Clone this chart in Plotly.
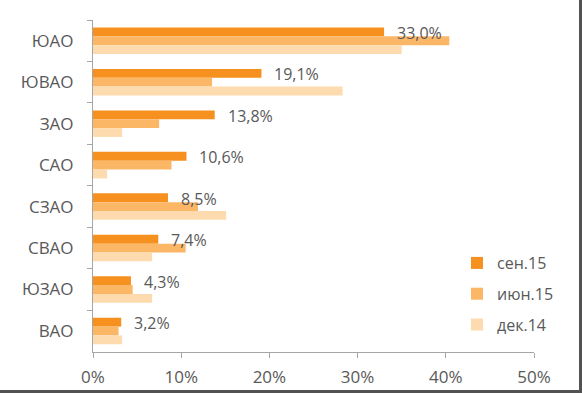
import plotly.graph_objects as go

categories = ["ЮАО", "ЮВАО", "ЗАО", "САО", "СЗАО", "СВАО", "ЮЗАО", "ВАО"]
sep15 = [33.0, 19.1, 13.8, 10.6, 8.5, 7.4, 4.3, 3.2]
jun15 = [40.4, 13.5, 7.5, 8.9, 11.9, 10.5, 4.5, 2.9]
dec14 = [35.0, 28.3, 3.3, 1.6, 15.1, 6.7, 6.7, 3.3]
series_names = ["сен.15", "июн.15", "дек.14"]
colors = ["#F6901E", "#FBB666", "#FDDBAE"]
x_ticks = [0, 10, 20, 30, 40, 50]
x_tick_labels = ["0%", "10%", "20%", "30%", "40%", "50%"]

font_family = "Open Sans, Noto Sans, sans-serif"
grey = "#595959"
fs = 17

fig = go.Figure()
for name, vals, col in zip(series_names, [sep15, jun15, dec14], colors):
    fig.add_trace(go.Bar(
        y=categories, x=vals, name=name, orientation="h",
        marker=dict(color=col, line=dict(width=0)),
        legendgroup=name, hoverinfo="skip",
    ))

for cat, v in zip(categories, sep15):
    fig.add_annotation(
        x=v, y=cat, xref="x", yref="y",
        text=f"{v:.1f}%".replace(".", ","),
        showarrow=False, xanchor="left", yanchor="middle",
        xshift=11, yshift=8,
        font=dict(family=font_family, size=16, color=grey),
    )

L, R, T, B = 93, 48, 20, 41
W, H = 582, 393
pw = W - L - R
ph = H - T - B
# outer frame lines on the right and bottom edges
fig.add_shape(type="line", xref="paper", yref="paper",
              x0=(W - 1.5 - L) / pw, x1=(W - 1.5 - L) / pw,
              y0=-B / ph, y1=(H - B) / ph,
              line=dict(color="#525252", width=3))
fig.add_shape(type="line", xref="paper", yref="paper",
              x0=-L / pw, x1=(W - L) / pw,
              y0=-(B - 1.5) / ph, y1=-(B - 1.5) / ph,
              line=dict(color="#525252", width=3))

fig.update_layout(
    width=W, height=H,
    margin=dict(l=L, r=R, t=T, b=B, autoexpand=False),
    barmode="group", bargap=0.36, bargroupgap=0,
    plot_bgcolor="white", paper_bgcolor="white",
    font=dict(family=font_family, size=fs, color=grey),
    showlegend=True,
    legend=dict(
        traceorder="grouped", tracegroupgap=7,
        x=(457 - L) / pw, y=(H - B - 246) / ph, xanchor="left", yanchor="top",
        font=dict(family=font_family, size=16, color=grey),
        itemwidth=30, bgcolor="rgba(0,0,0,0)",
    ),
    xaxis=dict(
        range=[0, 50], tickvals=x_ticks, ticktext=x_tick_labels,
        showgrid=False, zeroline=False, automargin=False,
        showline=True, linecolor="#A6A6A6", linewidth=1,
        ticks="outside", ticklen=5, tickcolor="#A6A6A6",
        ticklabelstandoff=5,
        tickfont=dict(family=font_family, size=fs, color=grey),
        fixedrange=True,
    ),
    yaxis=dict(
        categoryorder="array", categoryarray=categories,
        autorange="reversed", automargin=False,
        showgrid=False, zeroline=False,
        showline=True, linecolor="#A6A6A6", linewidth=1,
        ticks="outside", ticklen=5, tickcolor="#A6A6A6",
        tickson="boundaries", ticklabelstandoff=15,
        tickfont=dict(family=font_family, size=fs, color=grey),
        fixedrange=True,
    ),
)

fig.write_html("out.html", config={"displayModeBar": False},
               post_script="document.body.style.margin='0px';")
